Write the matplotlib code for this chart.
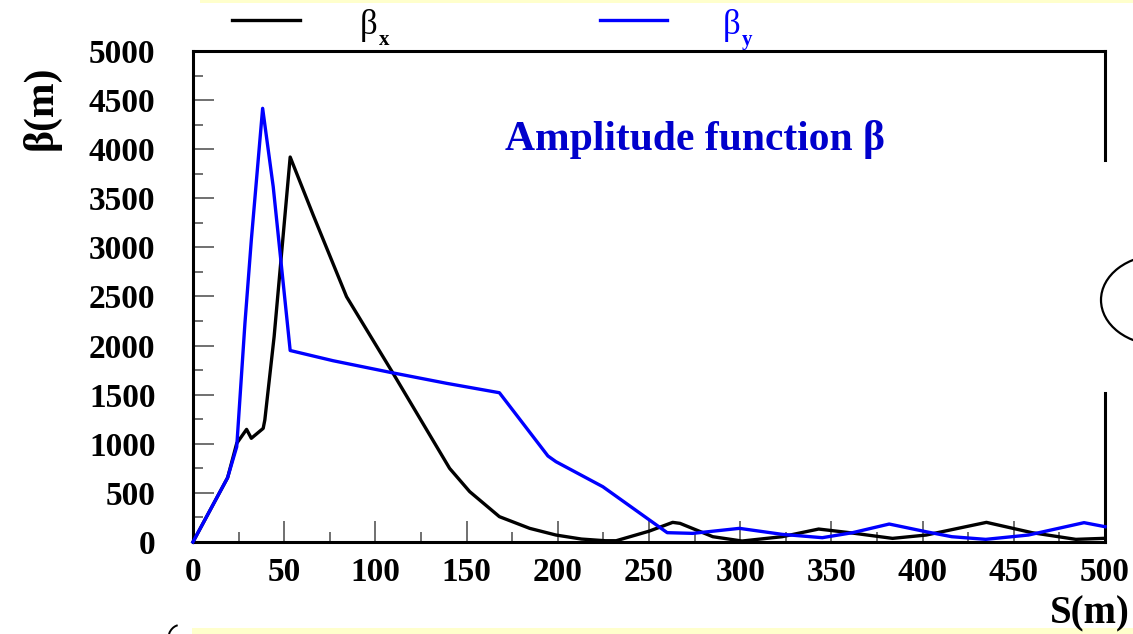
import numpy as np
import matplotlib
matplotlib.use("Agg")
import matplotlib.pyplot as plt
from matplotlib.patches import Ellipse, Rectangle, Arc
from matplotlib.lines import Line2D

# beta functions
s_x = [0, 19, 24, 29.4, 32, 38.5, 39.4, 44.5, 53.3, 65.9, 84.2, 109.7, 140.7,
       151.7, 168, 184.6, 199, 213, 226, 232, 250, 263, 267, 285, 301, 323, 343,
       360, 383.5, 402, 435, 460, 484, 499]
beta_x = [0, 655, 1005, 1147, 1056, 1157, 1242, 2091, 3920, 3330, 2498, 1718, 750,
          513, 258, 139, 71, 30, 13, 13, 110, 200, 190, 54, 10, 54, 132,
          95, 37, 71, 200, 95, 27, 37]

s_y = [0, 19, 24, 28.5, 32, 38.2, 44, 53.3, 76.8, 108, 139, 168, 194.6, 199,
       224.7, 260, 274, 299.6, 323, 345, 361.6, 381.7, 401.8, 416, 434.6, 458,
       488.5, 500]
beta_y = [0, 655, 970, 2227, 3075, 4416, 3618, 1950, 1846, 1728, 1616, 1520, 876, 818,
          563, 95, 88, 139, 78, 44, 95, 183, 105, 54, 27, 71,
          197, 156]

xticks = np.arange(0, 501, 50)
yticks = np.arange(0, 5001, 500)

serif = ['Liberation Serif', 'DejaVu Serif']
plt.rcParams['font.family'] = serif

fig = plt.figure(figsize=(11.33, 6.34), dpi=100)
ax = fig.add_axes([0.1703, 0.1451, 0.8050, 0.7745])

ax.plot(s_x, beta_x, color='black', lw=2.4, clip_on=False, zorder=3)
ax.plot(s_y, beta_y, color='#0000ff', lw=2.4, clip_on=False, zorder=3)

ax.set_xlim(0, 500)
ax.set_ylim(0, 5000)
ax.set_xticks(xticks)
ax.set_yticks(yticks)
ax.set_xticks(np.arange(25, 500, 50), minor=True)
ax.set_yticks(np.arange(250, 5000, 500), minor=True)
ax.tick_params(which='major', direction='in', length=15, width=1.4, color='#707070')
ax.tick_params(which='minor', direction='in', length=7, width=1.4, color='#707070')
ax.tick_params(axis='y', which='major', pad=27, labelsize=24)
ax.tick_params(axis='x', which='major', pad=11, labelsize=24)
for lab in ax.get_xticklabels() + ax.get_yticklabels():
    lab.set_fontweight('bold')

for side in ['left', 'bottom', 'top']:
    ax.spines[side].set_linewidth(2.2)
ax.spines['right'].set_visible(False)
# right border is broken in the picture
for y0, y1 in [(0.0, 0.303), (0.778, 1.0)]:
    ax.add_line(Line2D([1, 1], [y0, y1], transform=ax.transAxes, color='black',
                       lw=2.2, clip_on=False))

ax.text(0.55, 0.82, 'Amplitude function β', transform=ax.transAxes, color='#0000cc',
        fontsize=30, fontweight='bold', ha='center', va='center')

fig.text(0.036, 0.83, 'β(m)', rotation=90, fontsize=30, fontweight='bold',
         ha='center', va='center')
fig.text(0.997, 0.002, 'S(m)', fontsize=28, fontweight='bold', ha='right', va='bottom')

# legend above the frame
fig.add_artist(Line2D([232 / 1133, 300 / 1133], [1 - 20 / 634] * 2, color='black', lw=2.4))
fig.add_artist(Line2D([600 / 1133, 667 / 1133], [1 - 20 / 634] * 2, color='#0000ff', lw=2.4))
fig.text(360 / 1133, 1 - 26 / 634, 'β', fontsize=25, ha='left', va='center', color='black')
fig.text(379 / 1133, 1 - 40 / 634, 'x', fontsize=15, fontweight='bold', ha='left', va='center', color='black')
fig.text(723 / 1133, 1 - 26 / 634, 'β', fontsize=25, ha='left', va='center', color='#0000ff')
fig.text(742 / 1133, 1 - 40 / 634, 'y', fontsize=15, fontweight='bold', ha='left', va='center', color='#0000ff')

# pale bands and stray shapes from the slide
fig.add_artist(Rectangle((200 / 1133, 1 - 3 / 634), 1, 3 / 634, color='#ffffcc', lw=0))
fig.add_artist(Rectangle((192 / 1133, 0), 1, 6 / 634, color='#ffffcc', lw=0))
fig.add_artist(Ellipse((1160 / 1133, 1 - 300 / 634), 118 / 1133, 90 / 634,
                       fill=False, edgecolor='black', lw=1.6))
fig.add_artist(Arc((180 / 1133, 1 - 640 / 634), 24 / 1133, 30 / 634,
                   theta1=95, theta2=175, edgecolor='black', lw=1.4))

fig.savefig('out.png', dpi=100)
